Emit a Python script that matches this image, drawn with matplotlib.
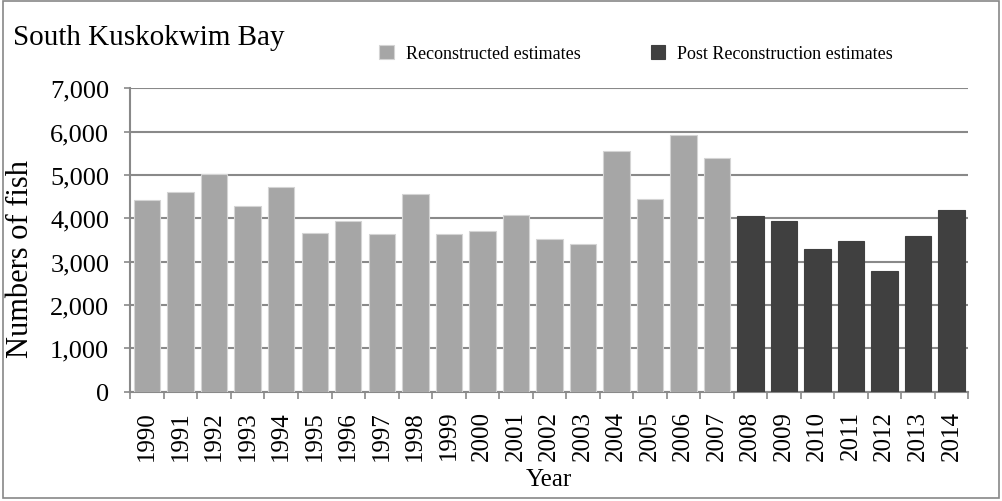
# South Kuskokwim Bay bar chart
import numpy as np
import matplotlib.pyplot as plt
from matplotlib.ticker import FuncFormatter, FixedLocator

plt.rcParams['font.family'] = ['Liberation Serif', 'DejaVu Serif']

# data
years_recon = list(range(1990, 2008))
fish_recon = [4430, 4615, 5015, 4295, 4715, 3670, 3930, 3630, 4565,
              3640, 3710, 4085, 3520, 3410, 5550, 4445, 5915, 5395]
years_post = list(range(2008, 2015))
fish_post = [4055, 3940, 3295, 3480, 2785, 3595, 4195]

years = years_recon + years_post
x_recon = np.arange(len(years_recon))
x_post = np.arange(len(years_recon), len(years))

fig = plt.figure(figsize=(10.02, 5.02), dpi=100)
ax = fig.add_axes([0.1302, 0.2177, 0.836, 0.6044])

grid_col = '#898989'
ax.bar(x_recon, fish_recon, width=0.79, color='#a6a6a6', edgecolor='#d4d4d4',
       linewidth=0.8, zorder=3, label='Reconstructed estimates')
ax.bar(x_post, fish_post, width=0.79, color='#404040', edgecolor='#404040',
       linewidth=0.8, zorder=3, label='Post Reconstruction estimates')

ax.set_xlim(-0.5, len(years) - 0.5)
ax.set_ylim(0, 7000)
ax.set_yticks(range(0, 7001, 1000))
ax.yaxis.set_major_formatter(FuncFormatter(lambda v, p: f'{int(v):,}'))
ax.yaxis.grid(True, color=grid_col, linewidth=1.5, zorder=0)

ax.set_xticks(np.arange(len(years)))
ax.set_xticklabels([str(y) for y in years], rotation=90, fontsize=18)
ax.xaxis.set_minor_locator(FixedLocator(np.arange(-0.5, len(years), 1)))
ax.tick_params(axis='x', which='major', length=0, pad=13)
ax.tick_params(axis='x', which='minor', length=5, color=grid_col, width=1.2)
ax.tick_params(axis='y', labelsize=19, length=4.3, color=grid_col, width=1.2, pad=11)

for s in ['top', 'right']:
    ax.spines[s].set_visible(False)
for s in ['left', 'bottom']:
    ax.spines[s].set_color(grid_col)
    ax.spines[s].set_linewidth(1.5)

ax.set_ylabel('Numbers of fish', fontsize=22)
ax.yaxis.set_label_coords(-0.114, 0.44)
ax.set_xlabel('Year', fontsize=18)
ax.xaxis.set_label_coords(0.5, -0.25)

fig.text(13 / 1002, 1 - 45 / 502, 'South Kuskokwim Bay', fontsize=21,
         ha='left', va='baseline')

ax.legend(loc='center left', bbox_to_anchor=(0.297, 1.115), ncol=2, frameon=False,
          fontsize=13, handlelength=0.8, handleheight=0.85, handletextpad=0.67,
          columnspacing=3.9, borderpad=0, borderaxespad=0)

# outer border
fig.patches.append(plt.Rectangle((0.003, 0.006), 0.994, 0.99, transform=fig.transFigure,
                                 fill=False, edgecolor='#878787', linewidth=1.2))

plt.savefig('out.png', dpi=100)
